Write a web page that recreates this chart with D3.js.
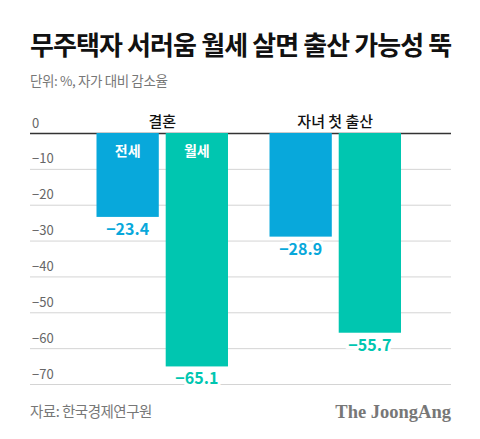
<!DOCTYPE html>
<html><head><meta charset="utf-8">
<script src="https://cdn.jsdelivr.net/npm/d3@7"></script>
<style>
body{margin:0;background:#fff;}
text{font-family:"Noto Sans CJK KR","Noto Sans",sans-serif;}
</style></head>
<body><svg id="c" width="480" height="439"></svg>
<script>
const title = "무주택자 서러움 월세 살면 출산 가능성 뚝";
const subtitle = "단위: %, 자가 대비 감소율";
const source = "자료: 한국경제연구원";
const brand = "The JoongAng";
const groups = ["결혼", "자녀 첫 출산"];
const seriesNames = ["전세", "월세"];
const jeonse = [-23.4, -28.9];
const wolse = [-65.1, -55.7];
const ticks = [0, -10, -20, -30, -40, -50, -60, -70];
const colors = ["#08a8db", "#00c6b0"];

const svg = d3.select("#c");
const mL = 30, mR = 451, mT = 133, mB = 384;
const y = d3.scaleLinear().domain([0, -70]).range([mT, mB]);
const x0 = d3.scaleBand().domain(groups).range([96.5, 401]).paddingInner(0.24).paddingOuter(0);
const x1 = d3.scaleBand().domain(seriesNames).range([0, x0.bandwidth()]).paddingInner(0.1);

svg.append("text").attr("x", mL).attr("y", 55).attr("font-size", 26).attr("font-weight", 700)
  .attr("fill", "#111").attr("letter-spacing", -0.9).text(title);
svg.append("text").attr("x", mL).attr("y", 86).attr("font-size", 13.5).attr("fill", "#777")
  .attr("letter-spacing", -0.4).text(subtitle);

// grid
const axis = d3.axisLeft(y).tickValues(ticks).tickSize(-(mR - mL)).tickFormat(d => d === 0 ? "0" : "−" + Math.abs(d));
const g = svg.append("g").attr("transform", `translate(${mL},0)`).call(axis);
g.select(".domain").remove();
g.selectAll(".tick line").attr("stroke", d => d === 0 ? "#333" : "#d4d4d4").attr("stroke-width", d => d === 0 ? 1.5 : 1)
  .attr("x1", mR - mL).attr("x2", 0);
g.selectAll(".tick text").attr("x", 2).attr("dy", -6).attr("text-anchor", "start")
  .attr("font-size", 13).attr("fill", "#666").attr("font-family", "Liberation Sans, Arial, sans-serif");

const data = groups.map((gname, i) => ({ g: gname, vals: [jeonse[i], wolse[i]] }));
const gg = svg.append("g");
data.forEach(d => {
  d.vals.forEach((v, j) => {
    const xs = x0(d.g) + x1(seriesNames[j]);
    gg.append("rect").attr("x", xs).attr("y", y(0)).attr("width", x1.bandwidth())
      .attr("height", y(v) - y(0)).attr("fill", colors[j]);
    gg.append("text").attr("x", xs + x1.bandwidth() / 2).attr("y", y(v) + 18)
      .attr("text-anchor", "middle").attr("font-size", 16).attr("font-weight", 700)
      .attr("fill", colors[j]).attr("stroke", "#fff").attr("stroke-width", 6).attr("paint-order", "stroke")
      .attr("font-family", "Liberation Sans, Arial, sans-serif")
      .text("−" + Math.abs(v).toFixed(1));
  });
  svg.append("text").attr("x", x0(d.g) + x0.bandwidth() / 2).attr("y", 127).attr("text-anchor", "middle")
    .attr("font-size", 15).attr("font-weight", 500).attr("fill", "#111").text(d.g);
});
seriesNames.forEach((s, j) => {
  svg.append("text").attr("x", x0(groups[0]) + x1(s) + x1.bandwidth() / 2).attr("y", 156)
    .attr("text-anchor", "middle").attr("font-size", 14).attr("font-weight", 700).attr("fill", "#fff").text(s);
});

svg.append("text").attr("x", mL).attr("y", 417).attr("font-size", 14.5).attr("fill", "#777")
  .attr("letter-spacing", -0.5).text(source);
svg.append("text").attr("x", mR).attr("y", 418).attr("text-anchor", "end").attr("font-size", 18.5)
  .attr("font-weight", 700).attr("fill", "#777")
  .style("font-family", "'Liberation Serif', serif").text(brand);
</script></body></html>
